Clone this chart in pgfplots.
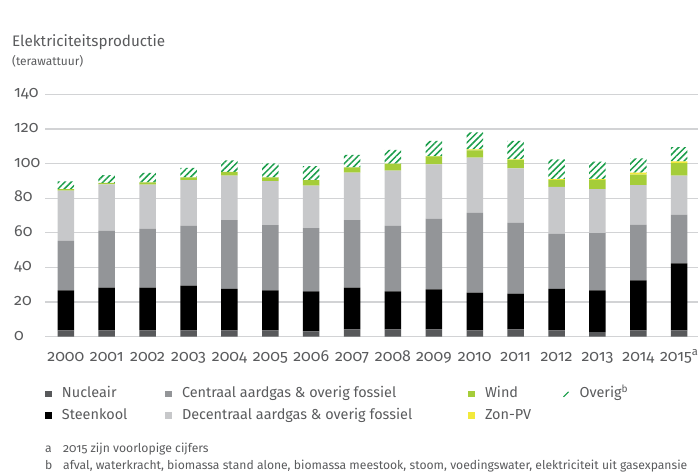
\documentclass[border=0pt]{standalone}
\usepackage{pgfplots}
\pgfplotsset{compat=1.18}
\usepackage{pgfplotstable}
\usetikzlibrary{patterns.meta}
\usepackage{fontspec}
\setmainfont{Fira Sans}[RawFeature=+onum]

\definecolor{txt}{HTML}{5A5B5D}
\definecolor{gridc}{HTML}{D2D3D5}
\definecolor{cnuc}{HTML}{58595B}
\definecolor{csteen}{HTML}{000000}
\definecolor{ccentr}{HTML}{939598}
\definecolor{cdecentr}{HTML}{C7C8CA}
\definecolor{cwind}{HTML}{A5CD39}
\definecolor{czon}{HTML}{F2E93B}
\definecolor{cover}{HTML}{1B9E4B}

% elektriciteitsproductie in TWh
\pgfplotstableread{
year nuc steen centr decentr wind zon overig
2000 3.7 23.1 28.5 29.1 0.8 0.0 4.6
2001 3.7 24.6 33.0 26.7 0.9 0.0 4.5
2002 3.7 24.6 34.1 25.4 1.4 0.0 5.4
2003 3.7 25.8 34.5 26.5 1.6 0.0 5.5
2004 3.7 24.0 39.7 25.6 2.3 0.0 6.6
2005 3.7 23.1 37.7 25.4 2.2 0.0 8.1
2006 3.1 23.1 36.6 24.5 3.1 0.0 8.2
2007 4.2 24.1 39.1 27.4 3.1 0.0 7.1
2008 4.2 22.0 37.8 32.0 4.0 0.0 7.9
2009 4.2 23.2 40.8 31.4 4.6 0.2 8.8
2010 3.7 21.7 46.1 31.9 4.3 0.6 9.8
2011 4.2 20.7 40.8 31.6 4.7 0.5 10.6
2012 3.7 24.0 31.8 27.0 4.1 0.5 11.4
2013 2.7 24.1 33.1 25.4 5.3 0.5 10.0
2014 3.7 28.9 32.1 22.9 6.0 1.2 8.3
2015 3.7 38.7 28.1 22.5 7.3 1.0 8.3
}\elek

\begin{document}
\begin{tikzpicture}[x=1bp,y=1bp]
\useasboundingbox (0,0) rectangle (698,-476);
\node[anchor=base west, inner sep=0pt, text=txt, font=\fontsize{15.3}{18}\selectfont] at (12,-46.7) {Elektriciteitsproductie};
\node[anchor=base west, inner sep=0pt, text=txt, font=\fontsize{12}{14}\selectfont] at (12,-66) {(terawattuur)};
\begin{axis}[
  at={(45bp,-336.7bp)}, anchor=south west,
  scale only axis, width=653bp, height=242.3bp,
  ybar stacked, bar width=16.5bp,
  xmin=1999.49, xmax=2015.46, ymin=0, ymax=140,
  xtick={2000,2001,...,2015},
  xticklabels={2000,2001,2002,2003,2004,2005,2006,2007,2008,2009,2010,2011,2012,2013,2014,2015\textsuperscript{a}},
  ytick={0,20,...,140},
  ymajorgrids, grid style={draw=gridc, line width=1.2bp},
  axis line style={draw=none}, major tick length=0pt,
  /pgf/number format/assume math mode=true,
  tick label style={text=txt, font=\fontsize{16}{18}\selectfont},
  yticklabel style={anchor=base west, inner sep=0pt, xshift=-31bp, yshift=-3.5bp},
  xticklabel style={anchor=base, inner sep=0pt, yshift=-25bp},
  legend columns=2, transpose legend,
  legend style={at={(0,-0.2047)}, anchor=north west, draw=none, fill=none,
    inner sep=0pt, outer sep=0pt, text=txt, font=\fontsize{14.5}{18}\selectfont,
    nodes={inner sep=0pt, text height=11bp, text depth=4bp},
    row sep=6.7bp,
    /tikz/every odd column/.append style={column sep=10.5bp},
    /tikz/every even column/.append style={column sep=0bp}},
  legend image code/.code={\fill (0bp,-3.25bp) rectangle (6.5bp,3.25bp);},
]
\addplot[fill=cnuc, draw=none] table[x=year, y=nuc] {\elek};
\addlegendentry{\makebox[103bp][l]{Nucleair}}
\addplot[fill=csteen, draw=none] table[x=year, y=steen] {\elek};
\addlegendentry{\makebox[103bp][l]{Steenkool}}
\addplot[fill=ccentr, draw=none] table[x=year, y=centr] {\elek};
\addlegendentry{\makebox[286bp][l]{Centraal aardgas \& overig fossiel}}
\addplot[fill=cdecentr, draw=none] table[x=year, y=decentr] {\elek};
\addlegendentry{\makebox[286bp][l]{Decentraal aardgas \& overig fossiel}}
\addplot[fill=cwind, draw=none] table[x=year, y=wind] {\elek};
\addlegendentry{\makebox[78bp][l]{Wind}}
\addplot[fill=czon, draw=none] table[x=year, y=zon] {\elek};
\addlegendentry{\makebox[78bp][l]{Zon-PV}}
\addplot[fill=white, draw=none,
  postaction={pattern={Lines[angle=45, distance=4.5bp, line width=1.5bp]}, pattern color=cover},
  legend image code/.code={\draw[cover, line width=1bp] (0.5bp,-3bp) -- (5.5bp,2bp);}]
  table[x=year, y=overig] {\elek};
\addlegendentry{Overig\textsuperscript{b}}
\end{axis}
\node[anchor=base west, inner sep=0pt, text=txt, font=\fontsize{12.2}{14}\selectfont] at (45,-452.3) {a};
\node[anchor=base west, inner sep=0pt, text=txt, font=\fontsize{12.2}{14}\selectfont] at (63,-452.3) {2015 zijn voorlopige cijfers};
\node[anchor=base west, inner sep=0pt, text=txt, font=\fontsize{12.2}{14}\selectfont] at (45,-469) {b};
\node[anchor=base west, inner sep=0pt, text=txt, font=\fontsize{12.2}{14}\selectfont] at (63,-469) {afval, waterkracht, biomassa stand alone, biomassa meestook, stoom, voedingswater, elektriciteit uit gasexpansie};
\end{tikzpicture}
\end{document}
